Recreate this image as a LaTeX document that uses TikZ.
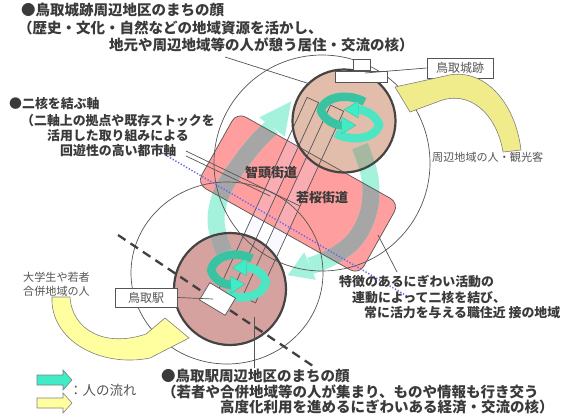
\documentclass[tikz,border=0pt]{standalone}
\usepackage{fontspec}
\setmainfont{Noto Sans CJK JP}
\definecolor{txt}{HTML}{3A3A3A}
\definecolor{ltxt}{HTML}{555555}
\definecolor{rectpink}{HTML}{FF9E9E}
\definecolor{coreup}{HTML}{DEB5A0}
\definecolor{corelow}{HTML}{D6A2A0}
\definecolor{coreedge}{HTML}{444444}
\definecolor{bandcyan}{HTML}{A4F2DC}
\definecolor{bandgray}{HTML}{A6A6A6}
\definecolor{bandgreen}{HTML}{A6B8A0}
\definecolor{rotdark}{HTML}{38C4A2}
\definecolor{rotlight}{HTML}{4CE6C4}
\definecolor{rothead}{HTML}{40ECC6}
\definecolor{yelA}{HTML}{F0EC8C}
\definecolor{yelB}{HTML}{FFFFA0}
\definecolor{lineg}{HTML}{555555}
\definecolor{dotblue}{HTML}{6464F0}
\definecolor{lav}{HTML}{E6E6FF}
\tikzset{
  rectxf/.style={rotate around={29.3:(298,193.5)}, rounded corners=10pt},
  stripAxf/.style={rotate around={114.7:(268,197.5)}},
  stripBxf/.style={rotate around={114.7:(293,204)}},
  thinline/.style={draw=lineg, line width=0.7pt},
  coreline/.style={draw=coreedge, line width=2.2pt},
  tx/.style={anchor=west, inner sep=0pt, text height=0.84em, text depth=0.08em},
  bigA/.style={tx, text=txt, font=\fontsize{14.5}{16}\selectfont\bfseries},
  bigB/.style={tx, text=txt, font=\fontsize{12.9}{15}\selectfont\bfseries},
  smallt/.style={tx, text=ltxt, font=\fontsize{11.1}{13}\selectfont},
  legt/.style={tx, text=ltxt, font=\fontsize{13.5}{15}\selectfont},
  streett/.style={inner sep=0pt, text=txt, font=\fontsize{13}{15}\selectfont\bfseries},
  labbox/.style={draw=lineg, line width=0.7pt, fill=white, inner sep=0pt, text=ltxt, font=\fontsize{12}{14}\selectfont},
  yelarrow/.style={draw=gray, line width=0.6pt},
}
\newcommand\bandshapes[1]{%
  \draw[draw=#1, line width=17pt] plot[smooth, tension=0.6] coordinates {(224,252) (216,222) (222,192) (238,166) (256,143) (272,127)};
  \fill[fill=#1] (259.2,117.4) -- (291.2,101.4) -- (284.8,136.6) -- cycle;
  \draw[draw=#1, line width=17pt] plot[smooth, tension=0.6] coordinates {(360,146) (370,178) (369,210) (356,238) (334,256) (310,266)};
  \fill[fill=#1] (304.2,252.2) -- (287.8,275.2) -- (315.8,279.8) -- cycle;
}
\newcommand\rotsym[5]{%
\begin{scope}[shift={(#1,#2)}, rotate=#3]
 \foreach \rr/\cc in {0/rotdark,180/rotlight}{
  \begin{scope}[rotate=\rr]
   \draw[draw=\cc, line width=8.5pt] plot[domain=70:250, samples=40, variable=\t]
     ({#4*(1-0.5*max(0,\t-180)/70)*cos(\t)}, {-#5*(1-0.5*max(0,\t-180)/70)*sin(\t)});
  \end{scope}}
 \foreach \rr in {0,180}{
  \begin{scope}[rotate=\rr]
   \filldraw[fill=rothead, draw=rotdark, line width=0.4pt, shift={({-0.171*#4},{0.47*#5})}, rotate=-14] (-1,-8.5) -- (13,0) -- (-1,8.5) -- cycle;
  \end{scope}}
\end{scope}}
\begin{document}
\begin{tikzpicture}[x=1pt, y=1pt, yscale=-1]
\useasboundingbox (0,0) rectangle (568,416);
\fill[white] (0,0) rectangle (568,416);

% axis zone rectangle
\fill[rectpink, rectxf] (205,152.5) rectangle (391,234.5);
% street strips (fills)
\fill[lav, fill opacity=0.22, stripAxf] (160.7,191.15) rectangle (375.3,203.85);
\fill[lav, fill opacity=0.22, stripBxf] (187.5,196.75) rectangle (398.5,211.25);
% cores (fills)
\fill[coreup, fill opacity=0.88] (344,121) circle[radius=51.5];
\fill[corelow] (230,289) circle[radius=56];

% flow bands
\bandshapes{bandcyan}
\begin{scope}
  \clip[rectxf] (205,152.5) rectangle (391,234.5);
  \bandshapes{bandgray}
\end{scope}
\begin{scope}
  \clip (344,121) circle[radius=51.5];
  \bandshapes{bandgreen}
\end{scope}
\begin{scope}
  \clip (230,289) circle[radius=56];
  \bandshapes{bandgray}
\end{scope}

% outlines
\draw[thinline, stripAxf] (160.7,191.15) rectangle (375.3,203.85);
\draw[thinline, stripBxf] (187.5,196.75) rectangle (398.5,211.25);
\draw[thinline, rectxf] (205,152.5) rectangle (391,234.5);
\draw[coreline] (344,121) circle[radius=51.5];
\draw[coreline] (230,289) circle[radius=56];

% rotation symbols
\rotsym{350}{117.5}{14}{30}{20}
\rotsym{238.5}{276}{12}{28}{21}

% big influence circles
\draw[thinline] (322,163) circle[radius=108];
\draw[thinline] (227,273) ellipse[x radius=96, y radius=91];

% railway (dashed) and urban axis (dotted)
\coordinate (railA) at (118,235);
\coordinate (railB) at (313,366);
\draw[draw=black!75, line width=2.3pt, dash pattern=on 9pt off 6pt] (railA) -- (railB);
\coordinate (axA) at (162,153);
\coordinate (axB) at (407,296);
\draw[draw=dotblue, line width=1.4pt, dash pattern=on 1.3pt off 1.8pt] (axA) -- (axB);

% castle icon
\filldraw[fill=white, thinline] (353,59) rectangle (370,70);
\filldraw[fill=white, thinline] (335,71) rectangle (387,82);
% station icon
\filldraw[fill=white, thinline, rotate around={31:(217.5,299)}] (202.5,289) rectangle (232.5,309);

% label boxes
\node[labbox, minimum width=66pt, minimum height=20pt] (castlelab) at (460,68) {鳥取城跡};
\node[labbox, minimum width=62pt, minimum height=19pt] (stationlab) at (146,297.5) {鳥取駅};

% leader lines
\coordinate (castlept) at (365,73);
\coordinate (stationpt) at (213,299);
\coordinate (titleA) at (225,57);
\coordinate (titleB) at (310,84);
\coordinate (stemA) at (254,317);
\coordinate (stemB) at (254,368);
\coordinate (zoneA) at (397,272);
\coordinate (zoneB) at (378,235);
\coordinate (axisA) at (186,151);
\coordinate (axisB) at (300,206);
\coordinate (axisC) at (186,156);
\coordinate (axisD) at (270,196);
\draw[thinline] (castlelab.west) -- (castlept);
\draw[thinline] (stationlab.east) -- (stationpt);
\draw[thinline] (titleA) -- (titleB);
\draw[thinline] (stemA) -- (stemB);
\draw[thinline] (zoneA) -- (zoneB);
\draw[thinline] (axisA) -- (axisB);
\draw[thinline] (axisC) -- (axisD);

% yellow arrows
\filldraw[fill=yelA, yelarrow] (395,87) -- (410,112) -- (437,102) .. controls (470,88) and (497,115) .. (503,152) -- (521,150) .. controls (515,100) and (482,66) .. (445,76) -- cycle;
\filldraw[fill=yelB, yelarrow] (52,297) .. controls (50,340) and (100,368) .. (150,358) -- (189,338) -- (165,318) -- (146,334) .. controls (105,348) and (72,330) .. (70,297) -- cycle;

% legend arrows
\filldraw[fill=rothead, yelarrow] (37,375) -- (63,375) -- (63,370) -- (72,380) -- (63,390) -- (63,385) -- (37,385) -- cycle;
\filldraw[fill=yelB, yelarrow] (37,398) -- (63,398) -- (63,393) -- (72,403) -- (63,413) -- (63,408) -- (37,408) -- cycle;

% street names
\node[streett] (chizu) at (271,173) {智頭街道};
\node[streett] (wakasa) at (322,198) {若桜街道};

% texts
\node[bigA] (t1) at (21,12) {●鳥取城跡周辺地区のまちの顔};
\node[bigA] (t2) at (18,30) {（歴史・文化・自然などの地域資源を活かし、};
\node[bigA] (t3) at (109,47) {地元や周辺地域等の人が憩う居住・交流の核）};
\node[bigB] (b1) at (9,105) {●二核を結ぶ軸};
\node[bigB] (b2) at (21,122) {（二軸上の拠点や既存ストックを};
\node[bigB] (b3) at (47,137) {活用した取り組みによる};
\node[bigB] (b4) at (60,152) {回遊性の高い都市軸};
\node[bigB] (c1) at (339,283) {特徴のあるにぎわい活動の};
\node[bigB] (c2) at (352,298.5) {連動によって二核を結び、};
\node[bigB] (c3) at (364,314) {常に活力を与える職住近 接の地域};
\node[bigA] (d1) at (161,378) {●鳥取駅周辺地区のまちの顔};
\node[bigA] (d2) at (162,394) {（若者や合併地域等の人が集まり、ものや情報も行き交う};
\node[bigA] (d3) at (220,409) {高度化利用を進めるにぎわいある経済・交流の核）};
\node[smallt] (visit) at (432,158) {周辺地域の人・観光客};
\node[smallt] (young1) at (23,278) {大学生や若者};
\node[smallt] (young2) at (23,292) {合併地域の人};
\node[legt] (leg) at (69,392) {：人の流れ};
\end{tikzpicture}
\end{document}
